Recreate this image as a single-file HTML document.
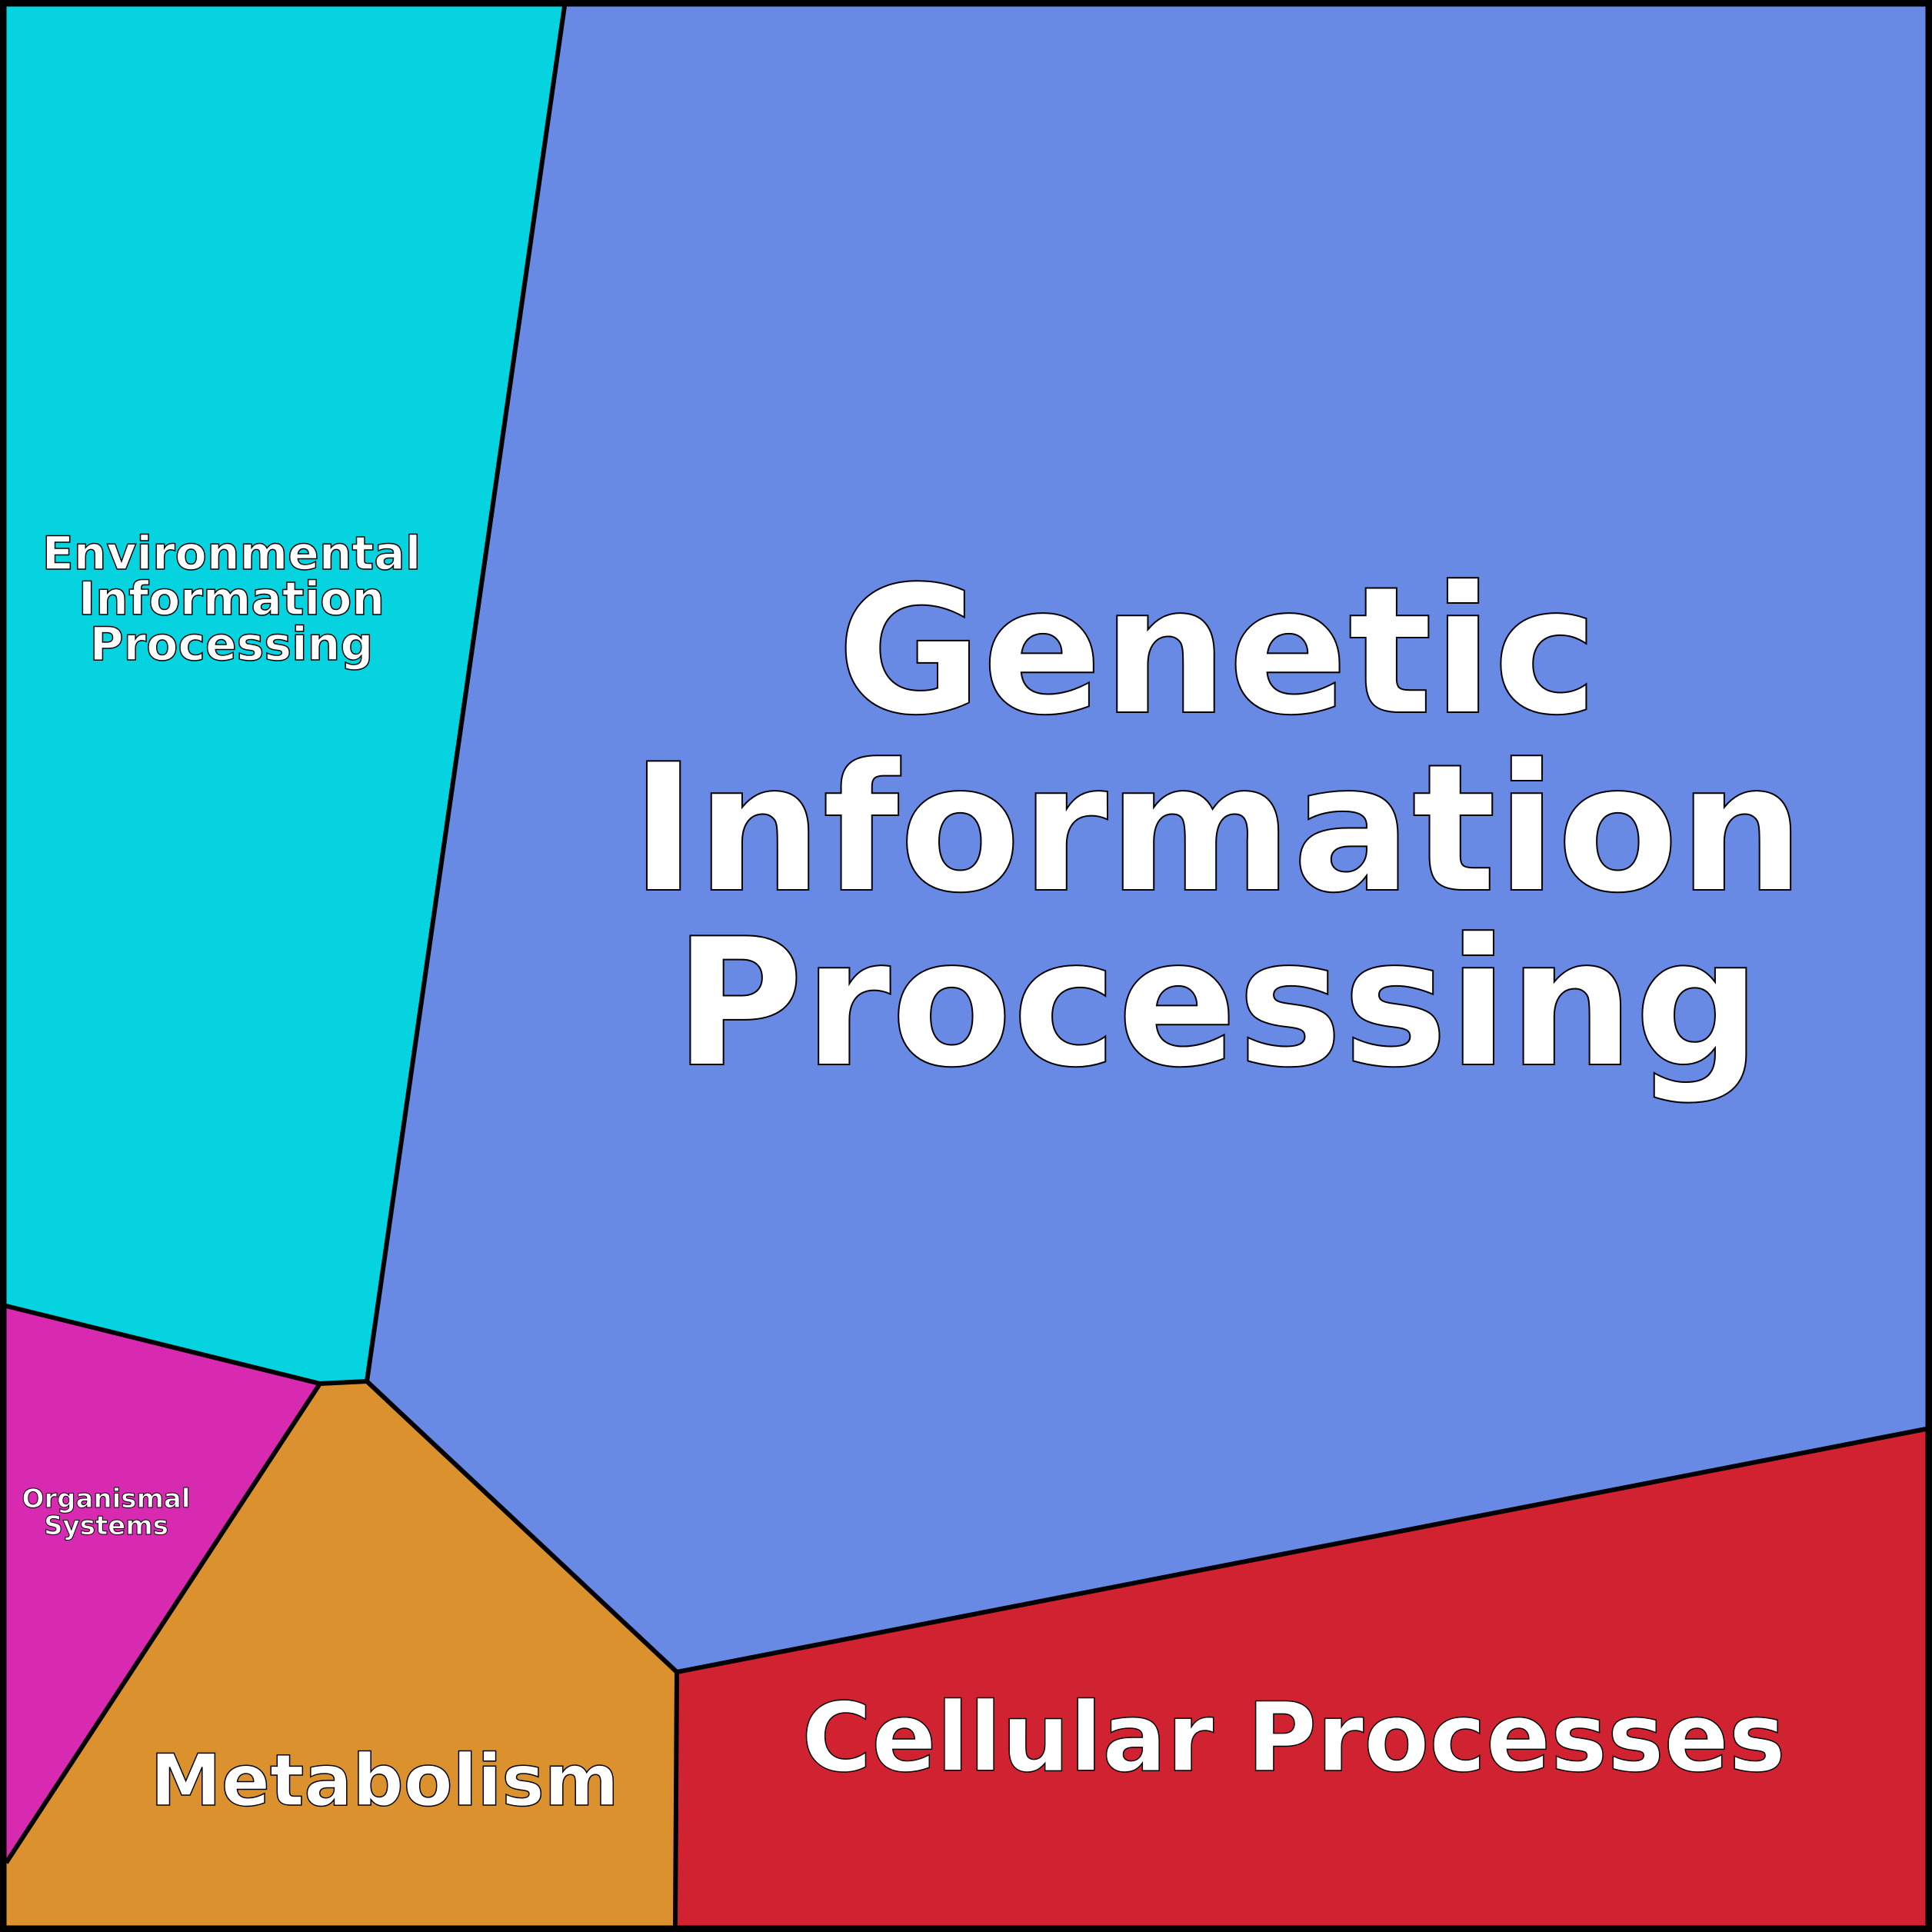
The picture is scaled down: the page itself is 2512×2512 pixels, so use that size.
<!DOCTYPE html>
<html><head><meta charset="utf-8"><style>
html,body{margin:0;padding:0;background:#fff}
svg{display:block}
text{font-family:"DejaVu Sans","Liberation Sans",sans-serif;font-weight:bold;fill:#fff;stroke:#000;text-anchor:middle}
</style></head><body>
<svg width="2512" height="2512" viewBox="0 0 2512 2512" xmlns="http://www.w3.org/2000/svg">
<polygon points="8,8 734,8 477,1796 416,1799 8,1698" fill="#05d3df"/>
<polygon points="734,8 2504,8 2504,1858 880,2174 477,1796" fill="#6889e4"/>
<polygon points="8,1698 416,1799 8,2422" fill="#d829b1"/>
<polygon points="416,1799 477,1796 880,2174 878,2504 8,2504 8,2422" fill="#dc912f"/>
<polygon points="880,2174 2504,1858 2504,2504 878,2504" fill="#d12231"/>
<g stroke="#000" stroke-width="6" fill="none" stroke-linejoin="round">
<polyline points="734,8 477,1796 416,1799 8,1698"/>
<polyline points="416,1799 8,2422"/>
<polyline points="477,1796 880,2174 2504,1858"/>
<polyline points="880,2174 878,2504"/>
</g>
<rect x="4" y="4" width="2504" height="2504" fill="none" stroke="#000" stroke-width="9"/>
<text x="1583" y="926" font-size="230" stroke-width="2">Genetic</text>
<text x="1583" y="1157" font-size="230" stroke-width="2">Information</text>
<text x="1583" y="1384" font-size="230" stroke-width="2">Processing</text>
<text x="301" y="740" font-size="60" stroke-width="1.5">Environmental</text>
<text x="301" y="799" font-size="60" stroke-width="1.5">Information</text>
<text x="301" y="858" font-size="60" stroke-width="1.5">Processing</text>
<text x="138" y="1960" font-size="34" stroke-width="1">Organismal</text>
<text x="138" y="1995" font-size="34" stroke-width="1">Systems</text>
<text x="500" y="2347" font-size="93" stroke-width="1.5">Metabolism</text>
<text x="1682" y="2302" font-size="124" stroke-width="1.5">Cellular Processes</text>
</svg>
</body></html>
